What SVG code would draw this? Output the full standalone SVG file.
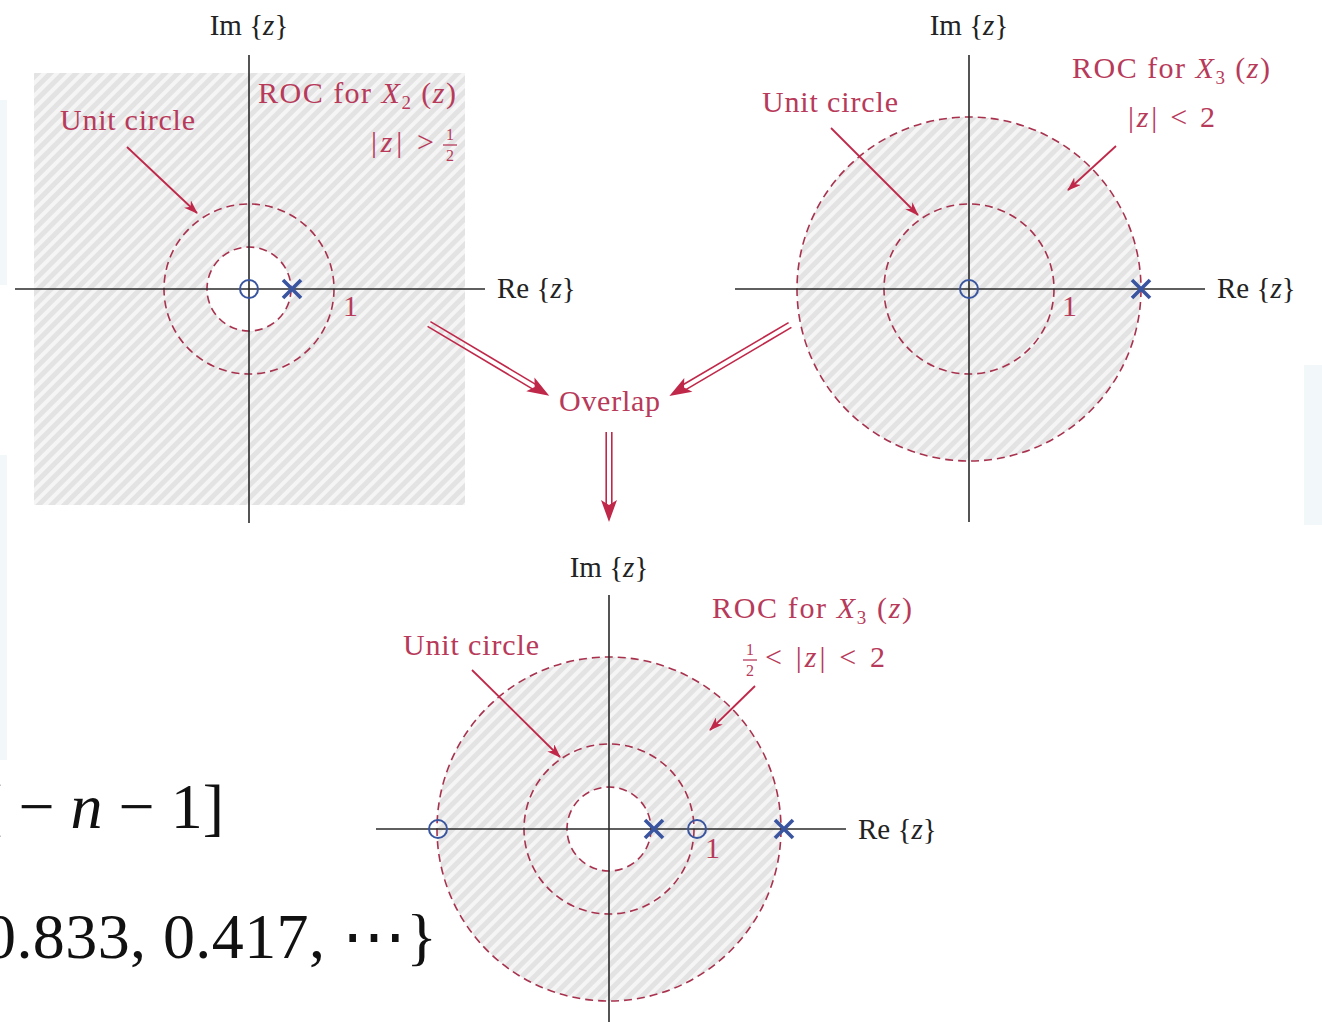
<svg xmlns="http://www.w3.org/2000/svg" width="1322" height="1022" viewBox="0 0 1322 1022">
<style>
text{font-family:"Liberation Serif","DejaVu Serif","Noto Serif","Times New Roman",Times,serif}
.lbl{font-size:30px;fill:#b83a5a}
.ax{font-size:29px;fill:#222}
.big{font-size:64px;fill:#111}
.frac{font-size:16px;fill:#b83a5a}
.axis{stroke:#2a2a2a;stroke-width:1.6;fill:none}
.dash{stroke:#a8324e;stroke-width:1.6;stroke-dasharray:8 5;fill:none}
.zero{stroke:#3a55a0;stroke-width:2;fill:none}
.pole{stroke:#3a55a0;stroke-width:3.6;fill:none}
.arr{stroke:#c0284a;stroke-width:1.8;fill:none}
.dbl{stroke:#c0284a;stroke-width:1.6;fill:none}
.head{fill:#c0284a}
.i{font-style:italic}
</style>
<defs>
<pattern id="hatch" width="9" height="9" patternUnits="userSpaceOnUse" patternTransform="rotate(45)">
<rect width="9" height="9" fill="#e3e3e3"/>
<line x1="2" y1="0" x2="2" y2="9" stroke="#f5f5f5" stroke-width="4"/>
</pattern>
<marker id="ah" markerWidth="14" markerHeight="10" refX="13" refY="5" orient="auto" markerUnits="userSpaceOnUse">
<path d="M0,0 L14,5 L0,10 L4,5 Z" fill="#c0284a"/>
</marker>
</defs>
<rect width="1322" height="1022" fill="#ffffff"/>
<rect x="0" y="100" width="7" height="185" fill="#f2f7fa"/>
<rect x="0" y="455" width="7" height="305" fill="#f2f7fa"/>
<rect x="1304" y="365" width="18" height="160" fill="#f2f7fa"/>

<g id="panel-x2">
<rect x="34" y="73" width="431" height="432" fill="url(#hatch)"/>
<circle cx="249" cy="289" r="42" fill="#ffffff"/>
<circle class="dash" cx="249" cy="289" r="85"/>
<circle class="dash" cx="249" cy="289" r="42"/>
<line class="axis" x1="249" y1="55" x2="249" y2="523"/>
<line class="axis" x1="15" y1="289" x2="485" y2="289"/>
<circle class="zero" cx="249" cy="289" r="9"/>
<path class="pole" d="M283,280 L301,298 M301,280 L283,298"/>
<text class="ax" x="249" y="35" text-anchor="middle">Im {<tspan class="i">z</tspan>}</text>
<text class="ax" x="497" y="298">Re {<tspan class="i">z</tspan>}</text>
<text class="lbl" x="343" y="316" fill="#8a3a4a">1</text>
<text class="lbl" x="60" y="130" textLength="135">Unit circle</text>
<text class="lbl" x="258" y="103" textLength="198">ROC for <tspan class="i">X</tspan><tspan font-size="19" dy="6">2</tspan><tspan dy="-6"> (</tspan><tspan class="i">z</tspan>)</text>
<text class="lbl" x="371" y="152" textLength="63">|<tspan class="i">z</tspan>| &gt;</text>
<text class="frac" x="450" y="140" text-anchor="middle">1</text>
<line x1="443" y1="145" x2="457" y2="145" stroke="#b83a5a" stroke-width="1.3"/>
<text class="frac" x="450" y="161" text-anchor="middle">2</text>
</g>

<g id="panel-x3">
<circle cx="969" cy="289" r="172" fill="url(#hatch)"/>
<circle class="dash" cx="969" cy="289" r="172"/>
<circle class="dash" cx="969" cy="289" r="85"/>
<line class="axis" x1="969" y1="55" x2="969" y2="522"/>
<line class="axis" x1="735" y1="289" x2="1205" y2="289"/>
<circle class="zero" cx="969" cy="289" r="9"/>
<path class="pole" d="M1132,280 L1150,298 M1150,280 L1132,298"/>
<text class="ax" x="969" y="35" text-anchor="middle">Im {<tspan class="i">z</tspan>}</text>
<text class="ax" x="1217" y="298">Re {<tspan class="i">z</tspan>}</text>
<text class="lbl" x="1062" y="316">1</text>
<text class="lbl" x="762" y="112" textLength="136">Unit circle</text>
<text class="lbl" x="1072" y="78" textLength="198">ROC for <tspan class="i">X</tspan><tspan font-size="19" dy="6">3</tspan><tspan dy="-6"> (</tspan><tspan class="i">z</tspan>)</text>
<text class="lbl" x="1128" y="127" textLength="87">|<tspan class="i">z</tspan>| &lt; 2</text>
</g>

<g id="node-overlap">
<text class="lbl" x="559" y="411" textLength="101">Overlap</text>
</g>

<g id="panel-overlap">
<circle cx="609" cy="829" r="172" fill="url(#hatch)"/>
<circle cx="609" cy="829" r="42" fill="#ffffff"/>
<circle class="dash" cx="609" cy="829" r="172"/>
<circle class="dash" cx="609" cy="829" r="85"/>
<circle class="dash" cx="609" cy="829" r="42"/>
<line class="axis" x1="609" y1="595" x2="609" y2="1022"/>
<line class="axis" x1="376" y1="829" x2="846" y2="829"/>
<circle class="zero" cx="438" cy="829" r="9"/>
<circle class="zero" cx="697" cy="829" r="9"/>
<path class="pole" d="M645,820 L663,838 M663,820 L645,838"/>
<path class="pole" d="M775,820 L793,838 M793,820 L775,838"/>
<text class="ax" x="609" y="577" text-anchor="middle">Im {<tspan class="i">z</tspan>}</text>
<text class="ax" x="858" y="839">Re {<tspan class="i">z</tspan>}</text>
<text class="lbl" x="705" y="858">1</text>
<text class="lbl" x="403" y="655" textLength="136">Unit circle</text>
<text class="lbl" x="712" y="618" textLength="200">ROC for <tspan class="i">X</tspan><tspan font-size="19" dy="6">3</tspan><tspan dy="-6"> (</tspan><tspan class="i">z</tspan>)</text>
<text class="frac" x="750" y="655" text-anchor="middle">1</text>
<line x1="743" y1="660" x2="757" y2="660" stroke="#b83a5a" stroke-width="1.3"/>
<text class="frac" x="750" y="676" text-anchor="middle">2</text>
<text class="lbl" x="765" y="667" textLength="120">&lt; |<tspan class="i">z</tspan>| &lt; 2</text>
</g>

<g id="equations">
<text class="big" x="224" y="828" text-anchor="end">[ − <tspan class="i">n</tspan> − 1]</text>
<text class="big" x="-16" y="958" textLength="453">0.833, 0.417, ⋯}</text>
</g>

<g id="connectors">
<line class="arr" x1="127" y1="147" x2="197" y2="213" marker-end="url(#ah)"/>
<line class="arr" x1="831" y1="128" x2="918" y2="215" marker-end="url(#ah)"/>
<line class="arr" x1="1116" y1="146" x2="1068" y2="190" marker-end="url(#ah)"/>
<line class="arr" x1="472" y1="670" x2="560" y2="757" marker-end="url(#ah)"/>
<line class="arr" x1="755" y1="686" x2="710" y2="730" marker-end="url(#ah)"/>
<g transform="translate(429,324) rotate(30.8)">
<line class="dbl" x1="0" y1="-2.8" x2="124" y2="-2.8"/>
<line class="dbl" x1="0" y1="2.8" x2="124" y2="2.8"/>
<path class="head" d="M140,0 L118,-8 L123,0 L118,8 Z"/>
</g>
<g transform="translate(790,325) rotate(149.5)">
<line class="dbl" x1="0" y1="-2.8" x2="124" y2="-2.8"/>
<line class="dbl" x1="0" y1="2.8" x2="124" y2="2.8"/>
<path class="head" d="M140,0 L118,-8 L123,0 L118,8 Z"/>
</g>
<g transform="translate(609,432) rotate(90)">
<line class="dbl" x1="0" y1="-2.8" x2="74" y2="-2.8"/>
<line class="dbl" x1="0" y1="2.8" x2="74" y2="2.8"/>
<path class="head" d="M90,0 L68,-8 L73,0 L68,8 Z"/>
</g>
</g>
</svg>
